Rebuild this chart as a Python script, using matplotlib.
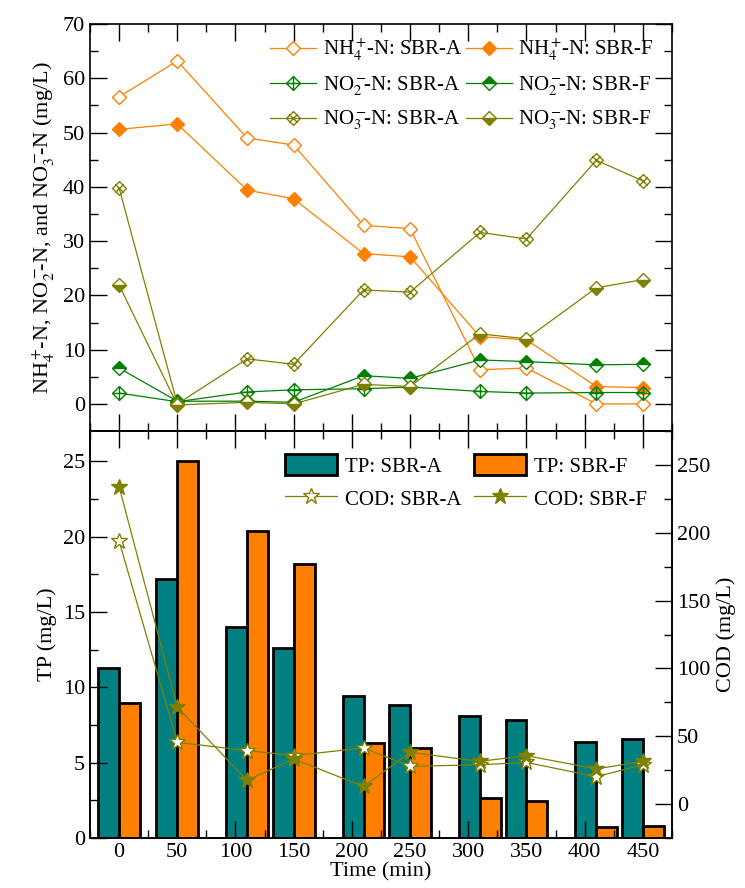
import matplotlib
matplotlib.use("Agg")
import matplotlib.pyplot as plt
import numpy as np
from matplotlib.path import Path

plt.rcParams['font.family'] = 'serif'
plt.rcParams['font.serif'] = ['Liberation Serif', 'DejaVu Serif']
plt.rcParams['mathtext.fontset'] = 'stix'
plt.rcParams['font.size'] = 16

# Sampling times (min)
time = [0, 50, 110, 150, 210, 250, 310, 350, 410, 450]

# Nitrogen species (mg/L)
nh4_a = [56.6, 63.2, 49.0, 47.7, 32.9, 32.3, 6.3, 6.6, 0.0, 0.0]
nh4_f = [50.6, 51.6, 39.4, 37.8, 27.7, 27.1, 12.4, 11.8, 3.2, 3.0]
no2_a = [2.0, 0.4, 2.2, 2.6, 2.8, 3.1, 2.3, 2.0, 2.1, 2.1]
no2_f = [6.6, 0.5, 0.5, 0.3, 5.2, 4.7, 8.1, 7.8, 7.2, 7.3]
no3_a = [39.8, 0.0, 8.3, 7.3, 21.0, 20.6, 31.6, 30.4, 44.9, 41.1]
no3_f = [21.9, -0.2, 0.3, 0.0, 3.6, 3.2, 12.9, 12.0, 21.4, 22.9]

# TP (mg/L)
tp_a = [11.3, 17.2, 14.0, 12.6, 9.4, 8.85, 8.1, 7.8, 6.4, 6.6]
tp_f = [8.95, 25.0, 20.4, 18.15, 6.3, 5.95, 2.65, 2.45, 0.7, 0.8]

# COD (mg/L)
cod_a = [194, 45.5, 39.5, 35.7, 41.4, 27.8, 29.0, 30.7, 20.2, 29.0]
cod_f = [234, 71.5, 17.5, 33.3, 13.0, 38.1, 31.5, 35.7, 25.9, 31.5]

orange = '#ff7f00'
green = '#008000'
olive = '#808000'
teal = '#008080'

# custom markers: diamond with plus, diamond with cross
dia = [(0, 1), (1, 0), (0, -1), (-1, 0), (0, 1)]
dcodes = [Path.MOVETO] + [Path.LINETO] * 4
plus_path = Path(dia + [(0, 1), (0, -1), (-1, 0), (1, 0)],
                 dcodes + [Path.MOVETO, Path.LINETO, Path.MOVETO, Path.LINETO])
cross_path = Path(dia + [(-0.6, -0.6), (0.6, 0.6), (-0.6, 0.6), (0.6, -0.6)],
                  dcodes + [Path.MOVETO, Path.LINETO, Path.MOVETO, Path.LINETO])

fig = plt.figure(figsize=(7.45, 8.88), dpi=100)
ax1 = fig.add_axes([0.1208, 0.5146, 0.7812, 0.4583])
ax2 = fig.add_axes([0.1208, 0.0563, 0.7812, 0.4583])

lw = 0.9
h1, = ax1.plot(time, nh4_a, color=orange, lw=lw, marker='D', ms=7, mfc='white', mec=orange, mew=1,
               label='NH$_4^+\\!$-N: SBR-A')
h2, = ax1.plot(time, nh4_f, color=orange, lw=lw, marker='D', ms=7, mfc=orange, mec=orange,
               label='NH$_4^+\\!$-N: SBR-F')
h3, = ax1.plot(time, no2_a, color=green, lw=lw, marker=plus_path, ms=10, mfc='none', mec=green, mew=1,
               label='NO$_2^-\\!\\!$-N: SBR-A')
h4, = ax1.plot(time, no2_f, color=green, lw=lw, marker='D', ms=7, fillstyle='top', mfc=green,
               mfcalt='white', mec=green, mew=1, label='NO$_2^-\\!\\!$-N: SBR-F')
h5, = ax1.plot(time, no3_a, color=olive, lw=lw, marker=cross_path, ms=10, mfc='none', mec=olive, mew=1,
               label='NO$_3^-\\!\\!$-N: SBR-A')
h6, = ax1.plot(time, no3_f, color=olive, lw=lw, marker='D', ms=7, fillstyle='bottom', mfc=olive,
               mfcalt='white', mec=olive, mew=1, label='NO$_3^-\\!\\!$-N: SBR-F')

ax1.set_xlim(-25, 475)
ax1.set_ylim(-5, 70)
ax1.set_yticks(np.arange(0, 71, 10))
ax1.set_yticks(np.arange(-5, 71, 5), minor=True)
ax1.set_xticks(np.arange(0, 451, 50))
ax1.set_xticks(np.arange(-25, 476, 25), minor=True)
ax1.tick_params(labelbottom=False)
ax1.set_ylabel('NH$_4^+\\!$-N, NO$_2^-\\!\\!$-N, and NO$_3^-\\!\\!$-N (mg/L)', labelpad=4)
ax1.legend([h1, h3, h5, h2, h4, h6], [h.get_label() for h in [h1, h3, h5, h2, h4, h6]],
           ncol=2, frameon=False, loc='upper right', bbox_to_anchor=(0.99, 1.0),
           fontsize=15, handlelength=2.2, handletextpad=0.3, columnspacing=0.2,
           labelspacing=0.55, borderaxespad=0.2)

# bottom panel: TP bars + COD on twin axis
w = 18
ax2.bar(np.array(time) - w / 2, tp_a, width=w, color=teal, edgecolor='black', linewidth=2,
        label='TP: SBR-A')
ax2.bar(np.array(time) + w / 2, tp_f, width=w, color=orange, edgecolor='black', linewidth=2,
        label='TP: SBR-F')
ax2.set_xlim(-25, 475)
ax2.set_ylim(0, 27)
ax2.set_yticks(np.arange(0, 26, 5))
ax2.set_yticks(np.arange(0, 27, 2.5), minor=True)
ax2.set_xticks(np.arange(0, 451, 50))
ax2.set_xticks(np.arange(-25, 476, 25), minor=True)
ax2.set_ylabel('TP (mg/L)')
ax2.set_xlabel('Time (min)', labelpad=0)

ax3 = ax2.twinx()
ax3.plot(time, cod_a, color=olive, lw=lw, marker='*', ms=12, mfc='white', mec=olive, mew=1,
         label='COD: SBR-A')
ax3.plot(time, cod_f, color=olive, lw=lw, marker='*', ms=12, mfc=olive, mec=olive,
         label='COD: SBR-F')
ax3.set_ylim(-25, 275)
ax3.set_yticks(np.arange(0, 251, 50))
ax3.set_yticks(np.arange(-25, 276, 25), minor=True)
ax3.set_ylabel('COD (mg/L)')

hb, lb = ax2.get_legend_handles_labels()
hc, lc = ax3.get_legend_handles_labels()
ax3.legend([hb[0], hc[0], hb[1], hc[1]], [lb[0], lc[0], lb[1], lc[1]],
           ncol=2, frameon=False, loc='upper right', bbox_to_anchor=(0.99, 0.99),
           fontsize=15, handlelength=2.5, handleheight=1.2, handletextpad=0.4,
           columnspacing=0.6, labelspacing=0.5)

for ax in (ax1, ax2):
    ax.tick_params(which='both', direction='in', top=True, right=(ax is ax1))
    ax.tick_params(which='major', length=12, width=1)
    ax.tick_params(which='minor', length=6, width=1)
ax3.tick_params(which='both', direction='in')
ax3.tick_params(which='major', length=12, width=1)
ax3.tick_params(which='minor', length=6, width=1)
for ax in (ax1, ax2, ax3):
    for s in ax.spines.values():
        s.set_linewidth(1.2)

fig.savefig('out.png', dpi=100)
